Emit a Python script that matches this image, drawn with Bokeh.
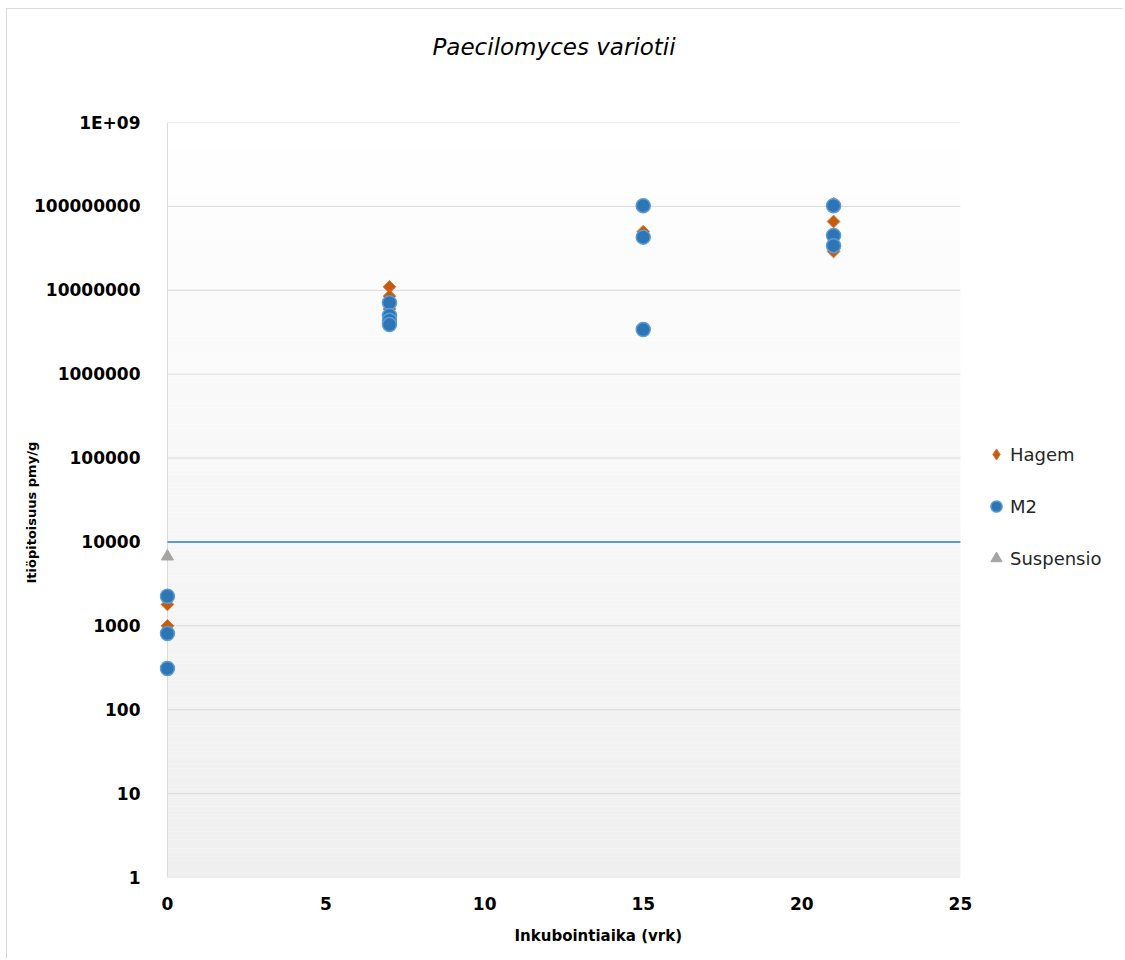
import numpy as np
from bokeh.plotting import figure
from bokeh.models import FixedTicker, Legend, LegendItem, Title
from bokeh.embed import file_html
from bokeh.resources import INLINE

# ---- data ----
hagem_x = [0, 0, 7, 7, 7, 15, 21, 21, 21]
hagem_y = [1800, 1000, 11000000, 8500000, 6000000, 50000000, 108000000, 66000000, 29000000]

m2_x = [0, 0, 0, 7, 7, 7, 7, 15, 15, 15, 21, 21, 21]
m2_y = [2250, 810, 310, 7100000, 5000000, 4400000, 3900000, 102000000, 43000000, 3400000,
        102000000, 45000000, 34000000]

susp_x = [0]
susp_y = [6700]

threshold = [10000]

y_ticks = [1, 10, 100, 1000, 10000, 100000, 1000000, 10000000, 100000000, 1000000000]
y_tick_labels = ["1", "10", "100", "1000", "10000", "100000", "1000000", "10000000",
                 "100000000", "1E+09"]
x_ticks = [0, 5, 10, 15, 20, 25]
x_min, x_max = 0, 25
y_min, y_max = 1, 1e9

title_text = "Paecilomyces  variotii"
x_label = "Inkubointiaika (vrk)"
y_label = "Itiöpitoisuus pmy/g"

FONT = "DejaVu Sans"
GRID = "#d9d9d9"
ORANGE = "#c55a11"

W, H = 1117, 950
pad_left = 0.25    # room left of x=0 so markers on the axis are not clipped
view_right = 29.92  # frame continues to the right to hold the legend
p = figure(width=W, height=H, output_backend="svg", toolbar_location=None, title=None,
           y_axis_type="log", x_range=(x_min - pad_left, view_right), y_range=(y_min, y_max),
           min_border_left=152, min_border_right=8,
           min_border_top=113, min_border_bottom=H - 868)

# background gradient (white top -> light grey bottom)
n = 180
edges = np.logspace(0, 9, n + 1)
t = np.linspace(0, 1, n)
lo, hi = 0xEF, 0xFF
cols = ["#%02x%02x%02x" % ((int(round(lo + (hi - lo) * v)),) * 3) for v in t]
bg = p.quad(left=x_min, right=x_max, bottom=edges[:-1], top=edges[1:], fill_color=cols,
            line_color=None)
bg.level = "image"

# grid lines and axis line, limited to the data area
gl = p.segment(x0=[x_min] * len(y_ticks), x1=[x_max] * len(y_ticks), y0=y_ticks, y1=y_ticks,
               line_color=GRID, line_width=1)
gl.level = "underlay"
al = p.segment(x0=[x_min], x1=[x_min], y0=[y_min], y1=[y_max], line_color=GRID, line_width=1)
al.level = "underlay"

p.outline_line_color = None
p.background_fill_color = "white"
p.border_fill_color = "white"
p.xgrid.grid_line_color = None
p.ygrid.grid_line_color = None

ya = p.yaxis[0]
ya.ticker = FixedTicker(ticks=y_ticks)
ya.major_label_overrides = {v: s for v, s in zip(y_ticks, y_tick_labels)}
ya.major_label_text_font = FONT
ya.major_label_text_font_style = "bold"
ya.major_label_text_font_size = "17px"
ya.major_label_text_color = "#000000"
ya.major_tick_line_color = None
ya.minor_tick_line_color = None
ya.axis_line_color = None
ya.major_label_standoff = 13

xa = p.xaxis[0]
xa.ticker = FixedTicker(ticks=x_ticks)
xa.major_label_text_font = FONT
xa.major_label_text_font_style = "bold"
xa.major_label_text_font_size = "17px"
xa.major_label_text_color = "#000000"
xa.major_tick_line_color = None
xa.minor_tick_line_color = None
xa.axis_line_color = None
xa.major_label_standoff = 13

# title (a blank spacer title sits between the main title and the plot)
spacer = Title(text=" ", text_font=FONT, text_font_size="22px", standoff=31)
p.add_layout(spacer, "above")
main_title = Title(text=title_text, align="left", offset=273, text_font=FONT,
                   text_font_style="italic", text_font_size="23px", text_color="#000000",
                   standoff=10)
p.add_layout(main_title, "above")

# axis titles
xt = Title(text=x_label, align="left", offset=355, text_font=FONT, text_font_style="bold",
           text_font_size="15px", text_color="#000000", standoff=24)
p.add_layout(xt, "below")
yt = Title(text=y_label, align="left", offset=294, text_font=FONT, text_font_style="bold",
           text_font_size="13px", text_color="#000000", standoff=-14)
p.add_layout(yt, "left")

# threshold line
for th in threshold:
    p.segment(x0=[x_min], x1=[x_max], y0=[th], y1=[th], line_color="#5b9bd5", line_width=2)

# legend key for Hagem (diamond shape), drawn under the first Hagem point
r_h_key = p.scatter(x=hagem_x[:1], y=hagem_y[:1], marker="diamond", size=11,
                    fill_color=ORANGE, line_color="#d77a3a", line_width=1)
# series
r_h = p.scatter(hagem_x, hagem_y, marker="square", angle=np.pi / 4, size=9,
                fill_color=ORANGE, line_color="#d77a3a", line_width=1)
r_m = p.scatter(m2_x, m2_y, marker="circle", size=14, fill_color="#2e75b6",
                line_color="#5b9bd5", line_width=1.5)
r_s = p.scatter(susp_x, susp_y, marker="triangle", size=12, fill_color="#a5a5a5",
                line_color="#a5a5a5")

legend = Legend(items=[LegendItem(label="Hagem", renderers=[r_h_key]),
                       LegendItem(label="M2", renderers=[r_m]),
                       LegendItem(label="Suspensio", renderers=[r_s])],
                location=(823, 305), orientation="vertical")
legend.label_text_font = FONT
legend.label_text_font_size = "18px"
legend.label_text_color = "#262626"
legend.border_line_color = None
legend.background_fill_alpha = 0
legend.glyph_width = 28
legend.glyph_height = 28
legend.label_height = 28
legend.spacing = 24
legend.padding = 0
legend.margin = 0
legend.label_standoff = 0
p.add_layout(legend, "center")

p.styles = {"border-left": "1px solid #d9d9d9", "border-top": "1px solid #d9d9d9",
            "margin-left": "6px", "margin-top": "8px"}

open("out.html", "w").write(file_html(p, INLINE))
